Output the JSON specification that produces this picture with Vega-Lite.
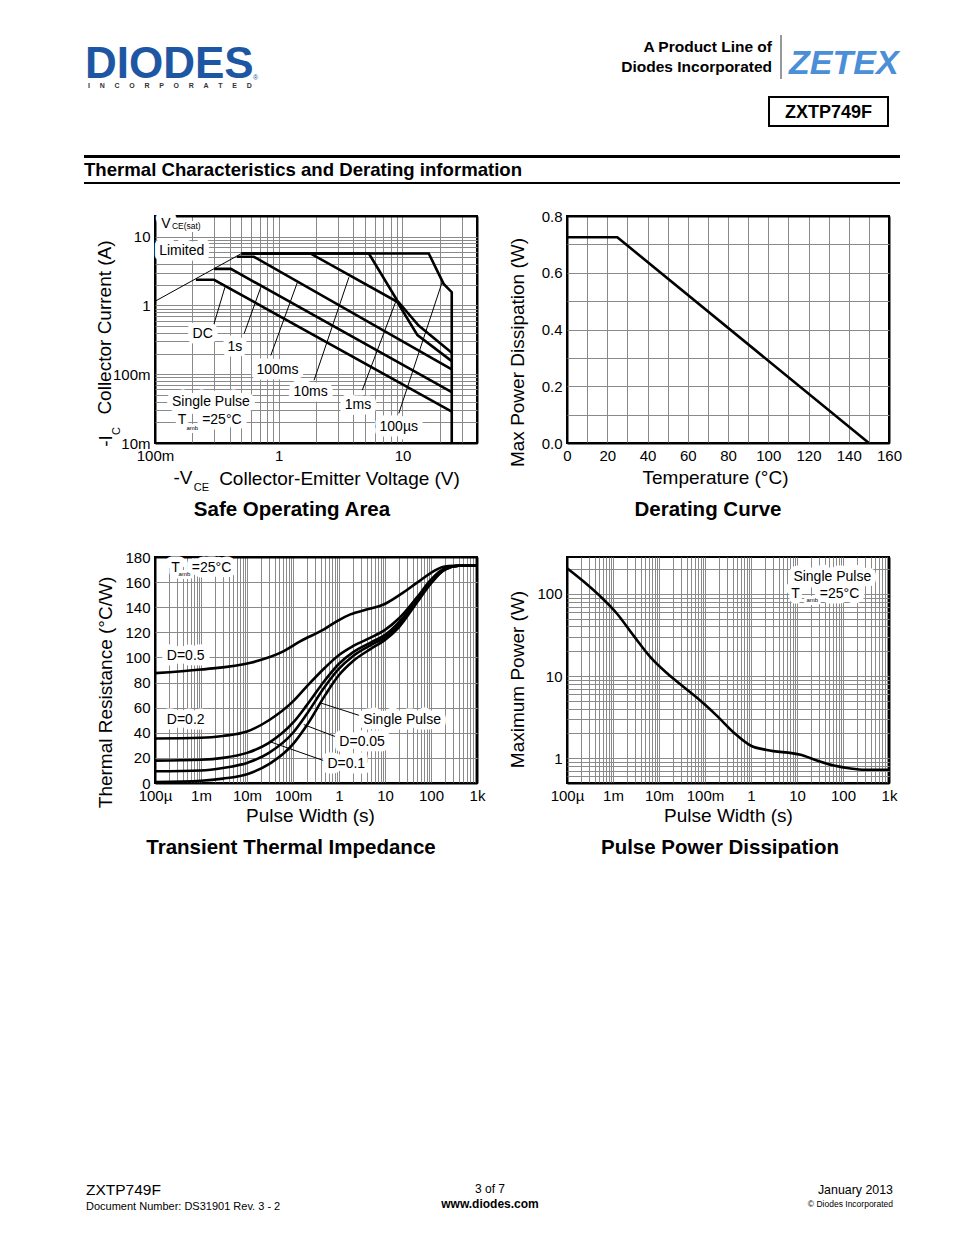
{
  "$schema": "https://vega.github.io/schema/vega-lite/v6.json",
  "background": "white",
  "padding": 0,
  "columns": 2,
  "bounds": "flush",
  "spacing": {"row": 114, "column": 90},
  "config": {
    "font": "Liberation Sans",
    "view": {"stroke": "black", "strokeWidth": 2},
    "axis": {"labelFont": "Liberation Sans", "labelFontSize": 15, "labelColor": "black", "labelFlush": false, "labelOverlap": false, "labelPadding": 5, "ticks": false, "tickSize": 0, "domain": false, "grid": true, "gridColor": "#8a8a8a", "gridWidth": 1, "gridOpacity": 1, "titleFont": "Liberation Sans", "titleFontSize": 19, "titleFontWeight": "normal", "titleColor": "black", "titleBaseline": "middle", "titleAlign": "center"},
    "title": {"font": "Liberation Sans", "fontSize": 20.5, "fontWeight": "bold", "color": "black"},
    "text": {"font": "Liberation Sans", "color": "black"}
  },
  "datasets": {
    "soa": [
      {"s": "DC", "k": 1, "v": 0.214, "i": 2.36}, {"s": "DC", "k": 2, "v": 0.30, "i": 2.36}, {"s": "DC", "k": 3, "v": 25, "i": 0.0285},
      {"s": "1s", "k": 1, "v": 0.30, "i": 3.4}, {"s": "1s", "k": 2, "v": 0.41, "i": 3.4}, {"s": "1s", "k": 3, "v": 25, "i": 0.055},
      {"s": "100ms", "k": 1, "v": 0.46, "i": 5.1}, {"s": "100ms", "k": 2, "v": 0.63, "i": 5.1}, {"s": "100ms", "k": 3, "v": 25, "i": 0.118},
      {"s": "10ms", "k": 1, "v": 0.5, "i": 5.7}, {"s": "10ms", "k": 2, "v": 1.8, "i": 5.7}, {"s": "10ms", "k": 3, "v": 9.06, "i": 1.13}, {"s": "10ms", "k": 4, "v": 13.2, "i": 0.37}, {"s": "10ms", "k": 5, "v": 25, "i": 0.155},
      {"s": "1ms", "k": 1, "v": 0.5, "i": 5.7}, {"s": "1ms", "k": 2, "v": 5.35, "i": 5.7}, {"s": "1ms", "k": 3, "v": 9.06, "i": 1.18}, {"s": "1ms", "k": 4, "v": 13.5, "i": 0.51}, {"s": "1ms", "k": 5, "v": 25, "i": 0.205},
      {"s": "100us", "k": 1, "v": 0.5, "i": 5.7}, {"s": "100us", "k": 2, "v": 16.3, "i": 5.7}, {"s": "100us", "k": 3, "v": 21.5, "i": 2.06}, {"s": "100us", "k": 4, "v": 25, "i": 1.56}, {"s": "100us", "k": 5, "v": 25, "i": 0.0101}
    ],
    "vce": [{"v": 0.1, "i": 1.15}, {"v": 0.5, "i": 5.7}],
    "soaLead": [
      {"s": "DC", "v": 0.2918, "i": 0.459}, {"s": "DC", "v": 0.3673, "i": 1.84},
      {"s": "1s", "v": 0.525, "i": 0.389}, {"s": "1s", "v": 0.716, "i": 1.84},
      {"s": "100ms", "v": 0.862, "i": 0.188}, {"s": "100ms", "v": 1.416, "i": 2.18},
      {"s": "10ms", "v": 1.93, "i": 0.0818}, {"s": "10ms", "v": 3.69, "i": 2.57},
      {"s": "1ms", "v": 4.73, "i": 0.0586}, {"s": "1ms", "v": 8.79, "i": 1.12},
      {"s": "100us", "v": 9.33, "i": 0.0269}, {"s": "100us", "v": 20.9, "i": 2.18}
    ],
    "soaLab": [
      {"t": "DC", "v": 0.2427, "i": 0.389}, {"t": "1s", "v": 0.4416, "i": 0.249}, {"t": "100ms", "v": 0.976, "i": 0.1143},
      {"t": "10ms", "v": 1.81, "i": 0.0553}, {"t": "1ms", "v": 4.37, "i": 0.0355}, {"t": "100µs", "v": 9.33, "i": 0.0172},
      {"t": "Single Pulse", "v": 0.283, "i": 0.0397}, {"t": "T", "v": 0.165, "i": 0.0215}, {"t": "=25°C", "v": 0.347, "i": 0.0215},
      {"t": "V", "v": 0.1227, "i": 15.3}, {"t": "Limited", "v": 0.1644, "i": 6.11}
    ],
    "soaSub": [{"t": "amb", "v": 0.2, "i": 0.0168}],
    "soaSub2": [{"t": "CE(sat)", "v": 0.179, "i": 14.2}],
    "der": [{"temp": 0, "pd": 0.725}, {"temp": 25, "pd": 0.725}, {"temp": 150, "pd": 0}],
    "tr": [
      {"d": "0.5", "t": 0.0001, "r": 87.5}, {"d": "0.5", "t": 0.001, "r": 90.4}, {"d": "0.5", "t": 0.012, "r": 95.7}, {"d": "0.5", "t": 0.063, "r": 105}, {"d": "0.5", "t": 0.146, "r": 113}, {"d": "0.5", "t": 0.47, "r": 122.3}, {"d": "0.5", "t": 0.91, "r": 129}, {"d": "0.5", "t": 1.77, "r": 134.3}, {"d": "0.5", "t": 4.1, "r": 138.3}, {"d": "0.5", "t": 9.3, "r": 142.2}, {"d": "0.5", "t": 21.6, "r": 150.2}, {"d": "0.5", "t": 50, "r": 159.6}, {"d": "0.5", "t": 115, "r": 168.8}, {"d": "0.5", "t": 186, "r": 172.3}, {"d": "0.5", "t": 309, "r": 173}, {"d": "0.5", "t": 1000, "r": 173},
      {"d": "0.2", "t": 0.0001, "r": 35.4}, {"d": "0.2", "t": 0.001, "r": 36}, {"d": "0.2", "t": 0.003, "r": 37.5}, {"d": "0.2", "t": 0.01, "r": 41}, {"d": "0.2", "t": 0.03, "r": 50}, {"d": "0.2", "t": 0.1, "r": 65}, {"d": "0.2", "t": 0.2, "r": 77}, {"d": "0.2", "t": 0.5, "r": 92}, {"d": "0.2", "t": 1, "r": 102}, {"d": "0.2", "t": 2, "r": 109}, {"d": "0.2", "t": 5, "r": 116}, {"d": "0.2", "t": 10, "r": 122}, {"d": "0.2", "t": 20, "r": 131}, {"d": "0.2", "t": 50, "r": 148}, {"d": "0.2", "t": 100, "r": 162}, {"d": "0.2", "t": 200, "r": 171}, {"d": "0.2", "t": 400, "r": 173}, {"d": "0.2", "t": 1000, "r": 173},
      {"d": "0.1", "t": 0.0001, "r": 17.8}, {"d": "0.1", "t": 0.001, "r": 18.5}, {"d": "0.1", "t": 0.003, "r": 20}, {"d": "0.1", "t": 0.01, "r": 24}, {"d": "0.1", "t": 0.03, "r": 32}, {"d": "0.1", "t": 0.1, "r": 48}, {"d": "0.1", "t": 0.2, "r": 62}, {"d": "0.1", "t": 0.5, "r": 82}, {"d": "0.1", "t": 1, "r": 95}, {"d": "0.1", "t": 2, "r": 104}, {"d": "0.1", "t": 5, "r": 112}, {"d": "0.1", "t": 10, "r": 118}, {"d": "0.1", "t": 20, "r": 128}, {"d": "0.1", "t": 50, "r": 146}, {"d": "0.1", "t": 100, "r": 161}, {"d": "0.1", "t": 200, "r": 170.5}, {"d": "0.1", "t": 400, "r": 173}, {"d": "0.1", "t": 1000, "r": 173},
      {"d": "0.05", "t": 0.0001, "r": 9.3}, {"d": "0.05", "t": 0.001, "r": 10}, {"d": "0.05", "t": 0.003, "r": 12}, {"d": "0.05", "t": 0.01, "r": 16}, {"d": "0.05", "t": 0.03, "r": 24}, {"d": "0.05", "t": 0.1, "r": 40}, {"d": "0.05", "t": 0.2, "r": 55}, {"d": "0.05", "t": 0.5, "r": 77}, {"d": "0.05", "t": 1, "r": 91}, {"d": "0.05", "t": 2, "r": 101}, {"d": "0.05", "t": 5, "r": 110}, {"d": "0.05", "t": 10, "r": 116}, {"d": "0.05", "t": 20, "r": 126}, {"d": "0.05", "t": 50, "r": 145}, {"d": "0.05", "t": 100, "r": 160}, {"d": "0.05", "t": 200, "r": 170}, {"d": "0.05", "t": 400, "r": 173}, {"d": "0.05", "t": 1000, "r": 173},
      {"d": "single", "t": 0.0001, "r": 0.8}, {"d": "single", "t": 0.001, "r": 1.8}, {"d": "single", "t": 0.003, "r": 3.5}, {"d": "single", "t": 0.01, "r": 7}, {"d": "single", "t": 0.03, "r": 15}, {"d": "single", "t": 0.1, "r": 31}, {"d": "single", "t": 0.2, "r": 46}, {"d": "single", "t": 0.5, "r": 70}, {"d": "single", "t": 1, "r": 86}, {"d": "single", "t": 2, "r": 97}, {"d": "single", "t": 5, "r": 107}, {"d": "single", "t": 10, "r": 114}, {"d": "single", "t": 20, "r": 124}, {"d": "single", "t": 50, "r": 144}, {"d": "single", "t": 100, "r": 159}, {"d": "single", "t": 200, "r": 170}, {"d": "single", "t": 400, "r": 173}, {"d": "single", "t": 1000, "r": 173}
    ],
    "trLead": [
      {"s": "single", "t": 3.18, "r": 53.1}, {"s": "single", "t": 0.395, "r": 63.8},
      {"s": "0.05", "t": 0.989, "r": 35.9}, {"s": "0.05", "t": 0.172, "r": 46.5},
      {"s": "0.1", "t": 0.467, "r": 17.8}, {"s": "0.1", "t": 0.0299, "r": 33.2}
    ],
    "trLab": [
      {"l": "D=0.5", "t": 0.000465, "r": 101}, {"l": "D=0.2", "t": 0.000465, "r": 50.5}, {"l": "Single Pulse", "t": 23.5, "r": 50.5},
      {"l": "D=0.05", "t": 3.18, "r": 32.7}, {"l": "D=0.1", "t": 1.44, "r": 15.2}, {"l": "T", "t": 0.000281, "r": 171.5}, {"l": "=25°C", "t": 0.0017, "r": 171.5}
    ],
    "trSub": [{"l": "amb", "t": 0.000435, "r": 166.5}],
    "pp": [
      {"t": 0.0001, "p": 205}, {"t": 0.00023, "p": 141}, {"t": 0.00053, "p": 93}, {"t": 0.0012, "p": 58}, {"t": 0.0028, "p": 31}, {"t": 0.0065, "p": 17}, {"t": 0.015, "p": 10.8}, {"t": 0.035, "p": 7.3}, {"t": 0.08, "p": 5}, {"t": 0.18, "p": 3.3}, {"t": 0.42, "p": 2.06}, {"t": 1, "p": 1.42}, {"t": 2.2, "p": 1.26}, {"t": 12, "p": 1.1}, {"t": 27, "p": 0.94}, {"t": 63, "p": 0.815}, {"t": 146, "p": 0.75}, {"t": 300, "p": 0.725}, {"t": 1000, "p": 0.725}
    ],
    "ppLab": [{"l": "Single Pulse", "t": 58.5, "p": 162}, {"l": "T", "t": 9.3, "p": 100}, {"l": "=25°C", "t": 84.3, "p": 100}],
    "ppSub": [{"l": "amb", "t": 21.5, "p": 82.9}]
  },
  "concat": [
    {
      "width": 322, "height": 66,
      "view": {"stroke": null},
      "data": {"values": [{}]},
      "layer": [
        {"mark": {"type": "rect", "fill": "white", "fillOpacity": 0},
         "encoding": {"x": {"datum": 0, "type": "quantitative", "scale": {"domain": [155, 477], "nice": false, "zero": false}, "axis": null}, "x2": {"datum": 954},
                      "y": {"datum": 0, "type": "quantitative", "scale": {"domain": [36, 102], "nice": false, "zero": false, "reverse": true}, "axis": null}, "y2": {"datum": 1235}}},
        {"mark": {"type": "text", "align": "left", "baseline": "alphabetic", "fontSize": 44, "fontWeight": "bold", "color": "#1d57a3"},
         "encoding": {"x": {"datum": 85, "type": "quantitative", "axis": null}, "y": {"datum": 78, "type": "quantitative", "axis": null}, "text": {"value": "DIODES"}}},
        {"mark": {"type": "text", "align": "left", "baseline": "alphabetic", "fontSize": 7, "fontWeight": "bold", "color": "#333333"},
         "encoding": {"x": {"datum": 88, "type": "quantitative", "axis": null}, "y": {"datum": 88, "type": "quantitative", "axis": null}, "text": {"value": "I\u00a0\u00a0\u00a0\u00a0\u00a0N\u00a0\u00a0\u00a0\u00a0\u00a0C\u00a0\u00a0\u00a0\u00a0\u00a0O\u00a0\u00a0\u00a0\u00a0\u00a0R\u00a0\u00a0\u00a0\u00a0\u00a0P\u00a0\u00a0\u00a0\u00a0\u00a0O\u00a0\u00a0\u00a0\u00a0\u00a0R\u00a0\u00a0\u00a0\u00a0\u00a0A\u00a0\u00a0\u00a0\u00a0\u00a0T\u00a0\u00a0\u00a0\u00a0\u00a0E\u00a0\u00a0\u00a0\u00a0\u00a0D"}}},
        {"mark": {"type": "text", "align": "left", "baseline": "alphabetic", "fontSize": 7, "color": "#1d57a3"},
         "encoding": {"x": {"datum": 253, "type": "quantitative", "axis": null}, "y": {"datum": 80, "type": "quantitative", "axis": null}, "text": {"value": "®"}}},
        {"mark": {"type": "text", "align": "right", "baseline": "alphabetic", "fontSize": 15.5, "fontWeight": "bold"},
         "encoding": {"x": {"datum": 772, "type": "quantitative", "axis": null}, "y": {"datum": 52, "type": "quantitative", "axis": null}, "text": {"value": "A Product Line of"}}},
        {"mark": {"type": "text", "align": "right", "baseline": "alphabetic", "fontSize": 15.5, "fontWeight": "bold"},
         "encoding": {"x": {"datum": 772, "type": "quantitative", "axis": null}, "y": {"datum": 72, "type": "quantitative", "axis": null}, "text": {"value": "Diodes Incorporated"}}},
        {"mark": {"type": "rule", "color": "#333333", "strokeWidth": 1},
         "encoding": {"x": {"datum": 781, "type": "quantitative", "axis": null}, "y": {"datum": 35, "type": "quantitative", "axis": null}, "y2": {"datum": 79}}},
        {"mark": {"type": "text", "align": "left", "baseline": "alphabetic", "fontSize": 34, "fontWeight": "bold", "fontStyle": "italic", "color": "#4a8fd8"},
         "encoding": {"x": {"datum": 789, "type": "quantitative", "axis": null}, "y": {"datum": 74, "type": "quantitative", "axis": null}, "text": {"value": "ZETEX"}}},
        {"mark": {"type": "rect", "fillOpacity": 0, "stroke": "black", "strokeWidth": 2},
         "encoding": {"x": {"datum": 769, "type": "quantitative", "axis": null}, "x2": {"datum": 888}, "y": {"datum": 97, "type": "quantitative", "axis": null}, "y2": {"datum": 126}}},
        {"mark": {"type": "text", "align": "center", "baseline": "alphabetic", "fontSize": 18, "fontWeight": "bold"},
         "encoding": {"x": {"datum": 828.5, "type": "quantitative", "axis": null}, "y": {"datum": 118, "type": "quantitative", "axis": null}, "text": {"value": "ZXTP749F"}}},
        {"mark": {"type": "rule", "color": "black", "strokeWidth": 3},
         "encoding": {"x": {"datum": 84, "type": "quantitative", "axis": null}, "x2": {"datum": 900}, "y": {"datum": 156.5, "type": "quantitative", "axis": null}}},
        {"mark": {"type": "text", "align": "left", "baseline": "alphabetic", "fontSize": 18.6, "fontWeight": "bold"},
         "encoding": {"x": {"datum": 84, "type": "quantitative", "axis": null}, "y": {"datum": 176, "type": "quantitative", "axis": null}, "text": {"value": "Thermal Characteristics and Derating information"}}},
        {"mark": {"type": "rule", "color": "black", "strokeWidth": 2},
         "encoding": {"x": {"datum": 84, "type": "quantitative", "axis": null}, "x2": {"datum": 900}, "y": {"datum": 183, "type": "quantitative", "axis": null}}},
        {"mark": {"type": "text", "align": "left", "baseline": "alphabetic", "fontSize": 15.5},
         "encoding": {"x": {"datum": 86, "type": "quantitative", "axis": null}, "y": {"datum": 1195, "type": "quantitative", "axis": null}, "text": {"value": "ZXTP749F"}}},
        {"mark": {"type": "text", "align": "left", "baseline": "alphabetic", "fontSize": 11},
         "encoding": {"x": {"datum": 86, "type": "quantitative", "axis": null}, "y": {"datum": 1210, "type": "quantitative", "axis": null}, "text": {"value": "Document Number: DS31901 Rev. 3 - 2"}}},
        {"mark": {"type": "text", "align": "center", "baseline": "alphabetic", "fontSize": 12},
         "encoding": {"x": {"datum": 490, "type": "quantitative", "axis": null}, "y": {"datum": 1193, "type": "quantitative", "axis": null}, "text": {"value": "3 of 7"}}},
        {"mark": {"type": "text", "align": "center", "baseline": "alphabetic", "fontSize": 12, "fontWeight": "bold"},
         "encoding": {"x": {"datum": 490, "type": "quantitative", "axis": null}, "y": {"datum": 1208, "type": "quantitative", "axis": null}, "text": {"value": "www.diodes.com"}}},
        {"mark": {"type": "text", "align": "right", "baseline": "alphabetic", "fontSize": 12.4},
         "encoding": {"x": {"datum": 893, "type": "quantitative", "axis": null}, "y": {"datum": 1194, "type": "quantitative", "axis": null}, "text": {"value": "January 2013"}}},
        {"mark": {"type": "text", "align": "right", "baseline": "alphabetic", "fontSize": 8.5},
         "encoding": {"x": {"datum": 893, "type": "quantitative", "axis": null}, "y": {"datum": 1207, "type": "quantitative", "axis": null}, "text": {"value": "© Diodes Incorporated"}}}
      ]
    },
    {
      "width": 322, "height": 66,
      "view": {"stroke": null},
      "data": {"values": [{}]},
      "mark": {"type": "point", "opacity": 0},
      "encoding": {}
    },
    {
      "width": 322, "height": 227,
      "title": {"text": "Safe Operating Area", "orient": "bottom", "anchor": "middle", "frame": "group", "dx": -24, "offset": 7},
      "encoding": {
        "x": {"field": "v", "type": "quantitative", "scale": {"type": "log", "domain": [0.1, 40], "nice": false},
              "axis": {"values": [0.1, 0.2, 0.3, 0.4, 0.5, 0.6, 0.7, 0.8, 0.9, 1, 2, 3, 4, 5, 6, 7, 8, 9, 10, 20, 30, 40],
                       "labelExpr": "datum.value == 0.1 ? '100m' : datum.value == 1 ? '1' : datum.value == 10 ? '10' : ''",
                       "gridColor": {"condition": {"test": "datum.value == 0.1 || datum.value == 40", "value": "black"}, "value": "#8a8a8a"},
                       "gridWidth": {"condition": {"test": "datum.value == 0.1 || datum.value == 40", "value": 2}, "value": 1},
                       "title": "Collector-Emitter Voltage (V)", "titleX": 184, "titleY": 35}},
        "y": {"field": "i", "type": "quantitative", "scale": {"type": "log", "domain": [0.01, 20], "nice": false},
              "axis": {"values": [0.01, 0.02, 0.03, 0.04, 0.05, 0.06, 0.07, 0.08, 0.09, 0.1, 0.2, 0.3, 0.4, 0.5, 0.6, 0.7, 0.8, 0.9, 1, 2, 3, 4, 5, 6, 7, 8, 9, 10, 20],
                       "labelExpr": "datum.value == 0.01 ? '10m' : datum.value == 0.1 ? '100m' : datum.value == 1 ? '1' : datum.value == 10 ? '10' : ''",
                       "gridColor": {"condition": {"test": "datum.value == 0.01 || datum.value == 20", "value": "black"}, "value": "#8a8a8a"},
                       "gridWidth": {"condition": {"test": "datum.value == 0.01 || datum.value == 20", "value": 2}, "value": 1},
                       "title": "Collector Current (A)", "titleX": -51, "titleY": 111}}
      },
      "layer": [
        {"data": {"name": "vce"}, "mark": {"type": "line", "color": "black", "strokeWidth": 1}, "encoding": {}},
        {"data": {"name": "soaLead"}, "mark": {"type": "line", "color": "black", "strokeWidth": 1}, "encoding": {"detail": {"field": "s"}}},
        {"data": {"name": "soa"}, "mark": {"type": "line", "color": "black", "strokeWidth": 2.6, "strokeJoin": "miter"}, "encoding": {"detail": {"field": "s"}, "order": {"field": "k"}}},
        {"data": {"name": "soaLab"}, "mark": {"type": "text", "fontSize": 14, "stroke": "white", "strokeWidth": 11, "strokeJoin": "round", "fill": "white"}, "encoding": {"text": {"field": "t"}}},
        {"data": {"name": "soaSub"}, "mark": {"type": "text", "fontSize": 6, "stroke": "white", "strokeWidth": 6, "strokeJoin": "round", "fill": "white"}, "encoding": {"text": {"field": "t"}}},
        {"data": {"name": "soaSub2"}, "mark": {"type": "text", "fontSize": 8.5, "stroke": "white", "strokeWidth": 6, "strokeJoin": "round", "fill": "white"}, "encoding": {"text": {"field": "t"}}},
        {"data": {"name": "soaLab"}, "mark": {"type": "text", "fontSize": 14, "color": "black"}, "encoding": {"text": {"field": "t"}}},
        {"data": {"name": "soaSub"}, "mark": {"type": "text", "fontSize": 6, "color": "black"}, "encoding": {"text": {"field": "t"}}},
        {"data": {"name": "soaSub2"}, "mark": {"type": "text", "fontSize": 8.5, "color": "black"}, "encoding": {"text": {"field": "t"}}},
        {"data": {"values": [{"t": "-I", "v": 0.0403, "i": 0.0107}]}, "mark": {"type": "text", "fontSize": 19, "angle": 270, "color": "black"}, "encoding": {"text": {"field": "t"}}},
        {"data": {"values": [{"t": "C", "v": 0.0494, "i": 0.0149}]}, "mark": {"type": "text", "fontSize": 11, "angle": 270, "color": "black"}, "encoding": {"text": {"field": "t"}}},
        {"data": {"values": [{"t": "-V", "v": 0.1683, "i": 0.00311}]}, "mark": {"type": "text", "fontSize": 19, "color": "black"}, "encoding": {"text": {"field": "t"}}},
        {"data": {"values": [{"t": "CE", "v": 0.237, "i": 0.00223}]}, "mark": {"type": "text", "fontSize": 11, "color": "black"}, "encoding": {"text": {"field": "t"}}}
      ]
    },
    {
      "width": 322, "height": 227,
      "title": {"text": "Derating Curve", "orient": "bottom", "anchor": "middle", "frame": "group", "dx": -20, "offset": 13},
      "data": {"name": "der"},
      "mark": {"type": "line", "color": "black", "strokeWidth": 2.6},
      "encoding": {
        "x": {"field": "temp", "type": "quantitative", "scale": {"domain": [0, 160], "nice": false, "zero": false},
              "axis": {"values": [0, 10, 20, 30, 40, 50, 60, 70, 80, 90, 100, 110, 120, 130, 140, 150, 160],
                       "labelExpr": "datum.value % 20 == 0 ? format(datum.value, 'd') : ''",
                       "gridColor": {"condition": {"test": "datum.value == 0 || datum.value == 160", "value": "black"}, "value": "#8a8a8a"},
                       "gridWidth": {"condition": {"test": "datum.value == 0 || datum.value == 160", "value": 2}, "value": 1},
                       "title": "Temperature (°C)", "titleX": 148, "titleY": 34}},
        "y": {"field": "pd", "type": "quantitative", "scale": {"domain": [0, 0.8], "nice": false, "zero": false},
              "axis": {"values": [0, 0.1, 0.2, 0.3, 0.4, 0.5, 0.6, 0.7, 0.8],
                       "labelExpr": "round(datum.value * 10) % 2 == 0 ? format(datum.value, '.1f') : ''",
                       "gridColor": {"condition": {"test": "datum.value == 0 || datum.value == 0.8", "value": "black"}, "value": "#8a8a8a"},
                       "gridWidth": {"condition": {"test": "datum.value == 0 || datum.value == 0.8", "value": 2}, "value": 1},
                       "title": "Max Power Dissipation (W)", "titleX": -50, "titleY": 136}}
      }
    },
    {
      "width": 322, "height": 226,
      "title": {"text": "Transient Thermal Impedance", "orient": "bottom", "anchor": "middle", "frame": "group", "dx": -25, "offset": 13},
      "encoding": {
        "x": {"field": "t", "type": "quantitative", "scale": {"type": "log", "domain": [0.0001, 1000], "nice": false},
              "axis": {"values": [0.0001, 0.0002, 0.0003, 0.0004, 0.0005, 0.0006, 0.0007, 0.0008, 0.0009, 0.001, 0.002, 0.003, 0.004, 0.005, 0.006, 0.007, 0.008, 0.009, 0.01, 0.02, 0.03, 0.04, 0.05, 0.06, 0.07, 0.08, 0.09, 0.1, 0.2, 0.3, 0.4, 0.5, 0.6, 0.7, 0.8, 0.9, 1, 2, 3, 4, 5, 6, 7, 8, 9, 10, 20, 30, 40, 50, 60, 70, 80, 90, 100, 200, 300, 400, 500, 600, 700, 800, 900, 1000],
                       "labelExpr": "datum.value == 0.0001 ? '100µ' : datum.value == 0.001 ? '1m' : datum.value == 0.01 ? '10m' : datum.value == 0.1 ? '100m' : datum.value == 1 ? '1' : datum.value == 10 ? '10' : datum.value == 100 ? '100' : datum.value == 1000 ? '1k' : ''",
                       "gridColor": {"condition": {"test": "datum.value == 0.0001 || datum.value == 1000", "value": "black"}, "value": "#8a8a8a"},
                       "gridWidth": {"condition": {"test": "datum.value == 0.0001 || datum.value == 1000", "value": 2}, "value": 1},
                       "title": "Pulse Width (s)", "titleX": 155, "titleY": 32}},
        "y": {"field": "r", "type": "quantitative", "scale": {"domain": [0, 180], "nice": false, "zero": false},
              "axis": {"values": [0, 20, 40, 60, 80, 100, 120, 140, 160, 180],
                       "gridColor": {"condition": {"test": "datum.value == 0 || datum.value == 180", "value": "black"}, "value": "#8a8a8a"},
                       "gridWidth": {"condition": {"test": "datum.value == 0 || datum.value == 180", "value": 2}, "value": 1},
                       "title": "Thermal Resistance (°C/W)", "titleX": -50, "titleY": 135}}
      },
      "layer": [
        {"data": {"name": "trLead"}, "mark": {"type": "line", "color": "black", "strokeWidth": 1}, "encoding": {"detail": {"field": "s"}}},
        {"data": {"name": "tr"}, "mark": {"type": "line", "color": "black", "strokeWidth": 2.6, "interpolate": "monotone"}, "encoding": {"detail": {"field": "d"}}},
        {"data": {"name": "trLab"}, "mark": {"type": "text", "fontSize": 14, "stroke": "white", "strokeWidth": 11, "strokeJoin": "round", "fill": "white"}, "encoding": {"text": {"field": "l"}}},
        {"data": {"name": "trSub"}, "mark": {"type": "text", "fontSize": 6, "stroke": "white", "strokeWidth": 6, "strokeJoin": "round", "fill": "white"}, "encoding": {"text": {"field": "l"}}},
        {"data": {"name": "trLab"}, "mark": {"type": "text", "fontSize": 14, "color": "black"}, "encoding": {"text": {"field": "l"}}},
        {"data": {"name": "trSub"}, "mark": {"type": "text", "fontSize": 6, "color": "black"}, "encoding": {"text": {"field": "l"}}}
      ]
    },
    {
      "width": 322, "height": 226,
      "title": {"text": "Pulse Power Dissipation", "orient": "bottom", "anchor": "middle", "frame": "group", "dx": -8, "offset": 13},
      "encoding": {
        "x": {"field": "t", "type": "quantitative", "scale": {"type": "log", "domain": [0.0001, 1000], "nice": false},
              "axis": {"values": [0.0001, 0.0002, 0.0003, 0.0004, 0.0005, 0.0006, 0.0007, 0.0008, 0.0009, 0.001, 0.002, 0.003, 0.004, 0.005, 0.006, 0.007, 0.008, 0.009, 0.01, 0.02, 0.03, 0.04, 0.05, 0.06, 0.07, 0.08, 0.09, 0.1, 0.2, 0.3, 0.4, 0.5, 0.6, 0.7, 0.8, 0.9, 1, 2, 3, 4, 5, 6, 7, 8, 9, 10, 20, 30, 40, 50, 60, 70, 80, 90, 100, 200, 300, 400, 500, 600, 700, 800, 900, 1000],
                       "labelExpr": "datum.value == 0.0001 ? '100µ' : datum.value == 0.001 ? '1m' : datum.value == 0.01 ? '10m' : datum.value == 0.1 ? '100m' : datum.value == 1 ? '1' : datum.value == 10 ? '10' : datum.value == 100 ? '100' : datum.value == 1000 ? '1k' : ''",
                       "gridColor": {"condition": {"test": "datum.value == 0.0001 || datum.value == 1000", "value": "black"}, "value": "#8a8a8a"},
                       "gridWidth": {"condition": {"test": "datum.value == 0.0001 || datum.value == 1000", "value": 2}, "value": 1},
                       "title": "Pulse Width (s)", "titleX": 161, "titleY": 32}},
        "y": {"field": "p", "type": "quantitative", "scale": {"type": "log", "domain": [0.5, 280], "nice": false},
              "axis": {"values": [0.5, 0.6, 0.7, 0.8, 0.9, 1, 2, 3, 4, 5, 6, 7, 8, 9, 10, 20, 30, 40, 50, 60, 70, 80, 90, 100, 200],
                       "labelExpr": "datum.value == 1 ? '1' : datum.value == 10 ? '10' : datum.value == 100 ? '100' : ''",
                       "gridColor": {"condition": {"test": "datum.value == 0.5", "value": "black"}, "value": "#8a8a8a"},
                       "gridWidth": {"condition": {"test": "datum.value == 0.5", "value": 2}, "value": 1},
                       "title": "Maximum Power (W)", "titleX": -50, "titleY": 122}}
      },
      "layer": [
        {"data": {"name": "pp"}, "mark": {"type": "line", "color": "black", "strokeWidth": 2.6, "interpolate": "monotone"}, "encoding": {}},
        {"data": {"name": "ppLab"}, "mark": {"type": "text", "fontSize": 14, "stroke": "white", "strokeWidth": 11, "strokeJoin": "round", "fill": "white"}, "encoding": {"text": {"field": "l"}}},
        {"data": {"name": "ppSub"}, "mark": {"type": "text", "fontSize": 6, "stroke": "white", "strokeWidth": 6, "strokeJoin": "round", "fill": "white"}, "encoding": {"text": {"field": "l"}}},
        {"data": {"name": "ppLab"}, "mark": {"type": "text", "fontSize": 14, "color": "black"}, "encoding": {"text": {"field": "l"}}},
        {"data": {"name": "ppSub"}, "mark": {"type": "text", "fontSize": 6, "color": "black"}, "encoding": {"text": {"field": "l"}}}
      ]
    }
  ]
}
